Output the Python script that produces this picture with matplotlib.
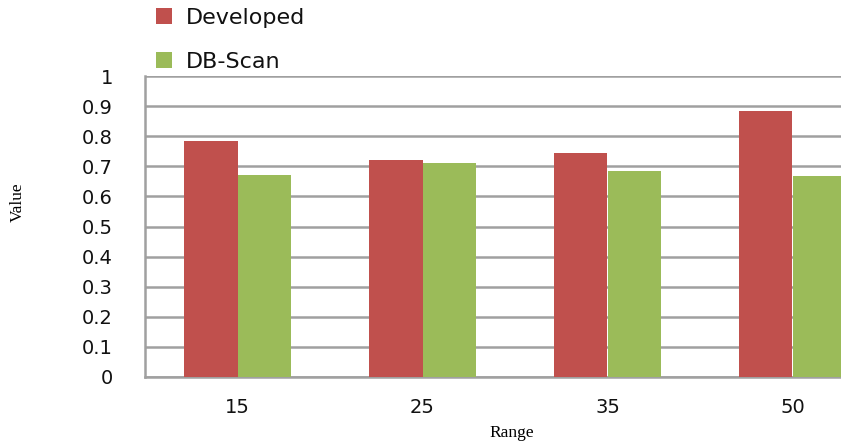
import numpy as np
import matplotlib.pyplot as plt

# data
ranges = ['15', '25', '35', '50']
developed = [0.784, 0.721, 0.744, 0.885]
db_scan = [0.670, 0.710, 0.685, 0.668]

red = '#C0504D'
green = '#9BBB59'

fig = plt.figure(figsize=(8.41, 4.45), dpi=100)
# plot area runs past the right edge, like the cropped original
ax = fig.add_axes([145 / 841, 1 - 377 / 445, 740 / 841, 301 / 445])

x = np.arange(len(ranges))
w = 0.29
ax.bar(x - w / 2, developed, w, color=red, label='Developed', zorder=3)
ax.bar(x + w / 2, db_scan, w, color=green, label='DB-Scan', zorder=3)

ax.set_xlim(-0.5, 3.5)
ax.set_ylim(0, 1)
ax.set_yticks(np.arange(0, 1.01, 0.1))
ax.set_yticklabels(['0'] + [f'{v:.1f}' for v in np.arange(0.1, 0.95, 0.1)] + ['1'])
ax.set_xticks(x)
ax.set_xticklabels(ranges)
ax.tick_params(axis='both', length=0, labelsize=14, labelcolor='#111111')
ax.tick_params(axis='x', pad=15)
ax.tick_params(axis='y', pad=23)

ax.yaxis.grid(True, color='#A0A0A0', linewidth=1.8, zorder=0)
for s in ['top', 'right']:
    ax.spines[s].set_visible(False)
for s in ['left', 'bottom']:
    ax.spines[s].set_color('#A0A0A0')
    ax.spines[s].set_linewidth(1.8)

fig.text(18 / 841, 1 - 202 / 445, 'Value', rotation=90, ha='center', va='center',
         family='Liberation Serif', fontsize=12.5)
fig.text(512 / 841, 1 - 433 / 445, 'Range', ha='center', va='center',
         family='Liberation Serif', fontsize=12.5)

leg = fig.legend(loc='upper left', bbox_to_anchor=(136 / 841, 1.028), frameon=False,
                 fontsize=16, labelspacing=1.1, handlelength=0.7, handleheight=0.7,
                 handletextpad=0.65)
for t in leg.get_texts():
    t.set_color('#111111')

fig.savefig('out.png', dpi=100)
